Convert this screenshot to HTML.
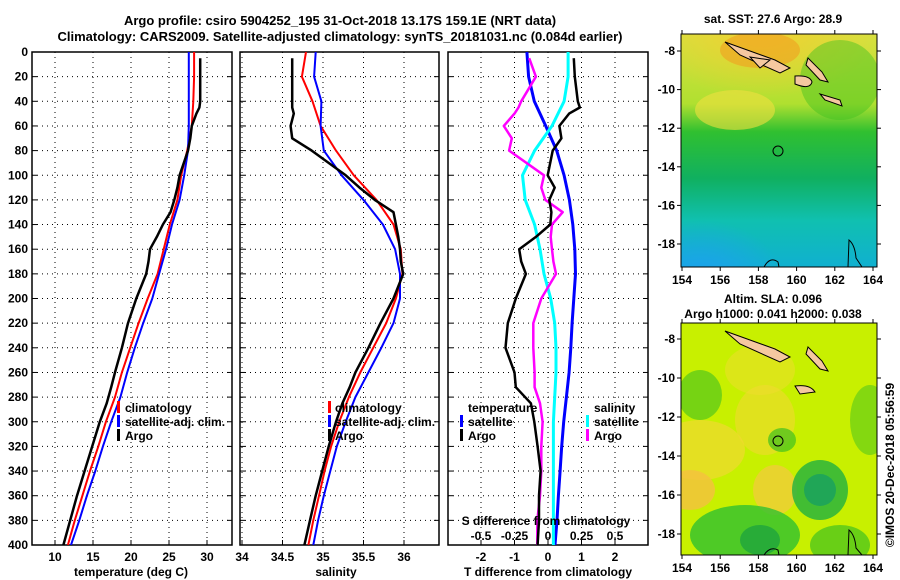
<!DOCTYPE html>
<html><head><meta charset="utf-8"><style>
html,body{margin:0;padding:0;background:#fff;}
svg{display:block;font-family:"Liberation Sans",Arial,sans-serif;font-weight:bold;}
text{font-size:12px;fill:#000;}
</style></head>
<body>
<svg id="chart" width="900" height="580" viewBox="0 0 900 580" xmlns="http://www.w3.org/2000/svg">
<defs>
  <clipPath id="c1"><rect x="32" y="52" width="200" height="493"/></clipPath>
  <clipPath id="c2"><rect x="240" y="52" width="199" height="493"/></clipPath>
  <clipPath id="c3"><rect x="448" y="52" width="200" height="493"/></clipPath>
  <clipPath id="m1"><rect x="681" y="34" width="196" height="233"/></clipPath>
  <clipPath id="m2"><rect x="681" y="323" width="196" height="232"/></clipPath>
  <radialGradient id="gBlue" cx="0.2" cy="1" r="0.55"><stop offset="0" stop-color="#1ea0f0"/><stop offset="1" stop-color="#1ea0f0" stop-opacity="0"/></radialGradient>
  <radialGradient id="gYel" cx="0.45" cy="0.1" r="0.5"><stop offset="0" stop-color="#f0d030"/><stop offset="1" stop-color="#f0d030" stop-opacity="0"/></radialGradient>
  <radialGradient id="gOr" cx="0.5" cy="0.5" r="0.5"><stop offset="0" stop-color="#f5c040"/><stop offset="1" stop-color="#f5c040" stop-opacity="0"/></radialGradient>
  <radialGradient id="gGr" cx="0.5" cy="0.5" r="0.5"><stop offset="0" stop-color="#20b040"/><stop offset="1" stop-color="#40d020" stop-opacity="0"/></radialGradient>
  <linearGradient id="sstBase" x1="0" y1="0" x2="0" y2="1">
    <stop offset="0" stop-color="#d8e040"/><stop offset="0.3" stop-color="#b0e030"/>
    <stop offset="0.42" stop-color="#30c030"/><stop offset="0.62" stop-color="#10b060"/>
    <stop offset="0.8" stop-color="#10c0b0"/><stop offset="1" stop-color="#10b0d0"/>
  </linearGradient>
</defs>

<text x="340" y="25" text-anchor="middle" style="font-size:13px">Argo profile: csiro 5904252_195 31-Oct-2018 13.17S 159.1E (NRT data)</text>
<text x="340" y="41" text-anchor="middle" style="font-size:13px">Climatology: CARS2009. Satellite-adjusted climatology: synTS_20181031.nc (0.084d earlier)</text>

<g id="axes"></g>
<g id="series"></g>

<!-- legends -->
<g>
  <rect x="117" y="401" width="3" height="12" fill="#f00"/><text x="125" y="412">climatology</text>
  <rect x="117" y="415" width="3" height="12" fill="#00f"/><text x="125" y="426">satellite-adj. clim.</text>
  <rect x="117" y="429" width="3" height="12" fill="#000"/><text x="125" y="440">Argo</text>
</g>
<g>
  <rect x="328" y="401" width="3" height="12" fill="#f00"/><text x="335" y="412">climatology</text>
  <rect x="328" y="415" width="3" height="12" fill="#00f"/><text x="335" y="426">satellite-adj. clim.</text>
  <rect x="328" y="429" width="3" height="12" fill="#000"/><text x="335" y="440">Argo</text>
</g>
<g>
  <text x="468" y="412">temperature</text>
  <rect x="460" y="415" width="3" height="12" fill="#00f"/><text x="468" y="426">satellite</text>
  <rect x="460" y="429" width="3" height="12" fill="#000"/><text x="468" y="440">Argo</text>
  <text x="594" y="412">salinity</text>
  <rect x="586" y="415" width="3" height="12" fill="#0ff"/><text x="594" y="426">satellite</text>
  <rect x="586" y="429" width="3" height="12" fill="#f0f"/><text x="594" y="440">Argo</text>
</g>
<text x="546" y="525" text-anchor="middle">S difference from climatology</text>
<text x="131" y="576" text-anchor="middle">temperature (deg C)</text>
<text x="336" y="576" text-anchor="middle">salinity</text>
<text x="548" y="576" text-anchor="middle">T difference from climatology</text>

<!-- SST map -->
<g>
  <text x="773" y="23" text-anchor="middle">sat. SST: 27.6 Argo: 28.9</text>
  <g clip-path="url(#m1)">
    <rect x="681" y="34" width="196" height="233" fill="url(#sstBase)"/>
    <rect x="660" y="20" width="230" height="130" fill="url(#gYel)"/>
    <rect x="670" y="170" width="150" height="110" fill="url(#gBlue)"/>
    <ellipse cx="760" cy="50" rx="40" ry="18" fill="#f0a020" opacity="0.6"/>
    <ellipse cx="735" cy="110" rx="40" ry="20" fill="#f0e040" opacity="0.6"/>
    <ellipse cx="840" cy="80" rx="40" ry="40" fill="#40c020" opacity="0.45"/>
    <path d="M725,42 L775,60 L790,68 L780,73 L740,55 Z" fill="#f5c8a0" stroke="#000" stroke-width="1"/>
    <path d="M750,57 L770,60 L760,68 Z" fill="#f5c8a0" stroke="#000"/>
    <path d="M795,76 Q810,75 812,82 Q810,90 795,84 Z" fill="#f5c8a0" stroke="#000"/>
    <path d="M808,58 L822,72 L828,82 L820,80 L806,65 Z" fill="#f5c8a0" stroke="#000"/>
    <path d="M820,94 L840,100 L842,106 L825,100 Z" fill="#f5c8a0" stroke="#000"/>
    <path d="M849,240 Q855,245 856,258 L862,267 L848,267 Z" fill="none" stroke="#000"/>
    <path d="M764,267 Q770,256 778,262 L779,267 Z" fill="none" stroke="#000"/>
    <circle cx="778" cy="151" r="5" fill="none" stroke="#000" stroke-width="1"/>
  </g>
  <rect x="681" y="34" width="196" height="233" fill="none" stroke="#000"/>
  <g id="map1axes"></g>
</g>

<!-- SLA map -->
<g>
  <text x="773" y="303" text-anchor="middle">Altim. SLA: 0.096</text>
  <text x="773" y="318" text-anchor="middle">Argo h1000: 0.041 h2000: 0.038</text>
  <g clip-path="url(#m2)">
    <rect x="681" y="323" width="196" height="232" fill="#c8f000"/>
    <ellipse cx="700" cy="450" rx="45" ry="30" fill="#f0d830" opacity="0.7"/>
    <ellipse cx="690" cy="490" rx="25" ry="20" fill="#f5c040" opacity="0.8"/>
    <ellipse cx="765" cy="420" rx="30" ry="35" fill="#f0d830" opacity="0.6"/>
    <ellipse cx="775" cy="490" rx="22" ry="25" fill="#f5c840" opacity="0.7"/>
    <ellipse cx="760" cy="370" rx="35" ry="25" fill="#f0dc30" opacity="0.5"/>
    <ellipse cx="820" cy="490" rx="28" ry="30" fill="#20b040" opacity="0.8"/>
    <ellipse cx="820" cy="490" rx="16" ry="16" fill="#18a060" opacity="0.8"/>
    <ellipse cx="745" cy="535" rx="55" ry="30" fill="#30c030" opacity="0.8"/>
    <ellipse cx="760" cy="540" rx="20" ry="15" fill="#18a040" opacity="0.7"/>
    <ellipse cx="840" cy="545" rx="30" ry="20" fill="#40c020" opacity="0.7"/>
    <ellipse cx="700" cy="395" rx="22" ry="25" fill="#40c020" opacity="0.6"/>
    <ellipse cx="782" cy="440" rx="14" ry="12" fill="#40c020" opacity="0.7"/>
    <ellipse cx="870" cy="420" rx="20" ry="35" fill="#40c020" opacity="0.5"/>
    <path d="M725,331 L775,349 L790,357 L780,362 L740,344 Z" fill="#f5c8a0" stroke="#000"/>
    <path d="M795,386 Q810,384 815,392 L800,394 Z" fill="#f5c8a0" stroke="#000"/>
    <path d="M808,347 L822,361 L828,371 L820,369 L806,354 Z" fill="#f5c8a0" stroke="#000"/>
    <path d="M849,530 Q855,535 856,548 L862,555 L848,555 Z" fill="none" stroke="#000"/>
    <path d="M764,555 Q770,546 778,550 L779,555 Z" fill="none" stroke="#000"/>
    <circle cx="778" cy="441" r="5" fill="none" stroke="#000"/>
  </g>
  <rect x="681" y="323" width="196" height="232" fill="none" stroke="#000"/>
  <g id="map2axes"></g>
</g>
<text x="0" y="0" transform="translate(894,465) rotate(-90)" text-anchor="middle">©IMOS 20-Dec-2018 05:56:59</text>
</svg>
<script>
// ---- data ----
const depths = [0,20,40,60,80,100,120,140,160,180,200,220,240,260,280,300,320,340,360,380,400];
const climT = [28.3,28.3,28.2,28.0,27.4,26.6,26.1,25.1,24.3,23.5,22.2,21.0,19.9,18.8,17.9,16.7,15.7,14.6,13.6,12.6,11.7];
const satT = [27.6,27.6,27.6,27.6,27.5,27.0,26.4,25.4,24.6,23.7,22.8,21.6,20.5,19.5,18.6,17.4,16.3,15.3,14.2,13.2,12.1];
const climS = [34.79,34.74,34.87,34.97,35.16,35.38,35.66,35.87,35.96,35.98,35.90,35.78,35.62,35.46,35.32,35.20,35.10,35.02,34.95,34.88,34.82];
const satS = [34.91,34.89,34.98,34.97,35.01,35.23,35.50,35.74,35.89,35.95,35.95,35.87,35.72,35.56,35.40,35.28,35.17,35.09,35.01,34.94,34.88];
const satTdiff = [-0.63,-0.58,-0.41,-0.07,0.26,0.48,0.64,0.74,0.80,0.82,0.77,0.72,0.68,0.63,0.55,0.47,0.41,0.36,0.31,0.27,0.21];
const satSdiff = [0.15,0.15,0.12,0.03,-0.10,-0.19,-0.17,-0.10,-0.06,-0.03,0.02,0.05,0.06,0.06,0.05,0.04,0.04,0.04,0.04,0.04,0.04];
const argoDepths = [5,20,40,45,50,60,70,80,100,110,120,130,140,150,160,170,180,200,220,240,260,272,285,300,320,340,360,380,400];
const argoT = [29.1,29.1,29.1,29.0,28.6,28.0,27.8,27.5,26.4,26.1,25.7,25.2,24.2,23.4,22.5,22.3,22.0,20.7,19.6,18.8,17.9,17.4,16.8,15.9,14.9,13.9,12.9,12.0,11.1];
const argoS = [34.62,34.62,34.62,34.62,34.64,34.60,34.62,34.86,35.28,35.45,35.64,35.87,35.90,35.93,35.95,35.96,35.99,35.87,35.71,35.56,35.40,35.33,35.24,35.16,35.07,34.99,34.91,34.84,34.77];
const argoTdiff = [0.77,0.80,0.89,0.95,0.63,0.34,0.40,0.14,-0.01,0.20,0.04,0.10,0.07,-0.36,-0.86,-0.80,-0.66,-0.96,-1.20,-1.27,-1.00,-0.96,-0.51,-0.41,-0.31,-0.22,-0.27,-0.27,-0.31];
const argoSdiff = [-0.14,-0.09,-0.20,-0.22,-0.25,-0.33,-0.27,-0.29,-0.03,-0.05,-0.02,0.11,0.03,0.02,0.03,0.04,0.06,-0.05,-0.11,-0.11,-0.10,-0.10,-0.06,-0.04,-0.05,-0.05,-0.06,-0.08,-0.08];
const depthTicks = [0,20,40,60,80,100,120,140,160,180,200,220,240,260,280,300,320,340,360,380,400];
const tTicks = [10,15,20,25,30];
const sTicks = [34,34.5,35,35.5,36];
const sTickLabels = ["34","34.5","35","35.5","36"];
const dTTicks = [-2,-1,0,1,2];
const dSTicks = [-0.5,-0.25,0,0.25,0.5];
const dSTickLabels = ["-0.5","-0.25","0","0.25","0.5"];
const lonTicks = [154,156,158,160,162,164];
const latTicks = [-8,-10,-12,-14,-16,-18];

// ---- scales ----
const yD = d => 52 + d*1.2325;
const xT = t => 55 + (t-10)*7.6;
const xS = s => 242 + (s-34)*81;
const xDT = v => 548 + v*33.5;
const xDS = v => 548 + v*134;
const lonX = l => 682 + (l-154)*19.1;
const lat1 = l => 51 + (-8-l)*19.3;
const lat2 = l => 339 + (-8-l)*19.5;

const NS = "http://www.w3.org/2000/svg";
function mk(tag, attrs, parent){ const e=document.createElementNS(NS,tag); for(const k in attrs) e.setAttribute(k,attrs[k]); parent.appendChild(e); return e; }
const axes = document.getElementById('axes');
const series = document.getElementById('series');

const panels = [
  {x0:32,x1:232,ticks:tTicks,labels:tTicks.map(String),fx:xT,name:'temperature'},
  {x0:240,x1:439,ticks:sTicks,labels:sTickLabels,fx:xS,name:'salinity'},
  {x0:448,x1:648,ticks:dTTicks,labels:dTTicks.map(String),fx:xDT,name:'difference'}
];
panels.forEach((p,i)=>{
  const g = mk('g',{},axes);
  
  
  depthTicks.forEach(d=>{
    const y=yD(d);
    const gl = mk('line',{x1:p.x0,x2:p.x1,y1:y,y2:y,stroke:'#000','stroke-width':1,'stroke-dasharray':'1,4'},g);
    
    
    mk('line',{x1:p.x0,x2:p.x0+5,y1:y,y2:y,stroke:'#000'},g);
    mk('line',{x1:p.x1-5,x2:p.x1,y1:y,y2:y,stroke:'#000'},g);
  });
  p.ticks.forEach((t,j)=>{
    const x=p.fx(t);
    mk('line',{x1:x,x2:x,y1:52,y2:545,stroke:'#000','stroke-dasharray':'1,4'},g);
    mk('line',{x1:x,x2:x,y1:540,y2:545,stroke:'#000'},g);
    const tl = mk('text',{x:x,y:561,'text-anchor':'middle'},g);
    tl.textContent = p.labels[j];
    
    
  });
  const fr = mk('rect',{x:p.x0,y:52,width:p.x1-p.x0,height:493,fill:'none',stroke:'#000','stroke-width':1.5},g);
  
  
});
depthTicks.forEach(d=>{
  const t = mk('text',{x:28,y:yD(d)+4,'text-anchor':'end'},axes);
  t.textContent = d;
  
  
});
dSTicks.forEach((v,j)=>{
  const t = mk('text',{x:xDS(v),y:540,'text-anchor':'middle'},axes);
  t.textContent = dSTickLabels[j];
  
  
});

function line(ds, vs, fx, color, w, clip, name){
  const pts = ds.map((d,i)=>fx(vs[i]).toFixed(1)+','+yD(d).toFixed(1)).join(' ');
  const pl = mk('polyline',{points:pts,fill:'none',stroke:color,'stroke-width':w,'stroke-linejoin':'round','clip-path':'url(#'+clip+')'},series);
  
  
}
line(depths, climT, xT, '#f00', 2, 'c1', 'climatology-temperature-line');
line(depths, satT, xT, '#00f', 2, 'c1', 'satellite-temperature-line');
line(argoDepths, argoT, xT, '#000', 2.5, 'c1', 'argo-temperature-line');
line(depths, climS, xS, '#f00', 2, 'c2', 'climatology-salinity-line');
line(depths, satS, xS, '#00f', 2, 'c2', 'satellite-salinity-line');
line(argoDepths, argoS, xS, '#000', 2.5, 'c2', 'argo-salinity-line');
line(depths, satTdiff, xDT, '#00f', 3, 'c3', 'satellite-t-diff-line');
line(depths, satSdiff, xDS, '#0ff', 3, 'c3', 'satellite-s-diff-line');
line(argoDepths, argoSdiff, xDS, '#f0f', 2.5, 'c3', 'argo-s-diff-line');
line(argoDepths, argoTdiff, xDT, '#000', 2.5, 'c3', 'argo-t-diff-line');

function mapAxes(gid, y0, y1, latf){
  const g = document.getElementById(gid);
  lonTicks.forEach(l=>{
    const x=lonX(l);
    mk('line',{x1:x,x2:x,y1:y1,y2:y1+4,stroke:'#000'},g);
    mk('line',{x1:x,x2:x,y1:y0-4,y2:y0,stroke:'#000'},g);
    const t = mk('text',{x:x,y:y1+17,'text-anchor':'middle'},g);
    t.textContent = l;
    
    
  });
  latTicks.forEach(l=>{
    const y=latf(l);
    mk('line',{x1:677,x2:681,y1:y,y2:y,stroke:'#000'},g);
    mk('line',{x1:877,x2:881,y1:y,y2:y,stroke:'#000'},g);
    const t = mk('text',{x:675,y:y+4,'text-anchor':'end'},g);
    t.textContent = l;
    
    
  });
}
mapAxes('map1axes',34,267,lat1);
mapAxes('map2axes',323,555,lat2);
</script>
</body></html>
